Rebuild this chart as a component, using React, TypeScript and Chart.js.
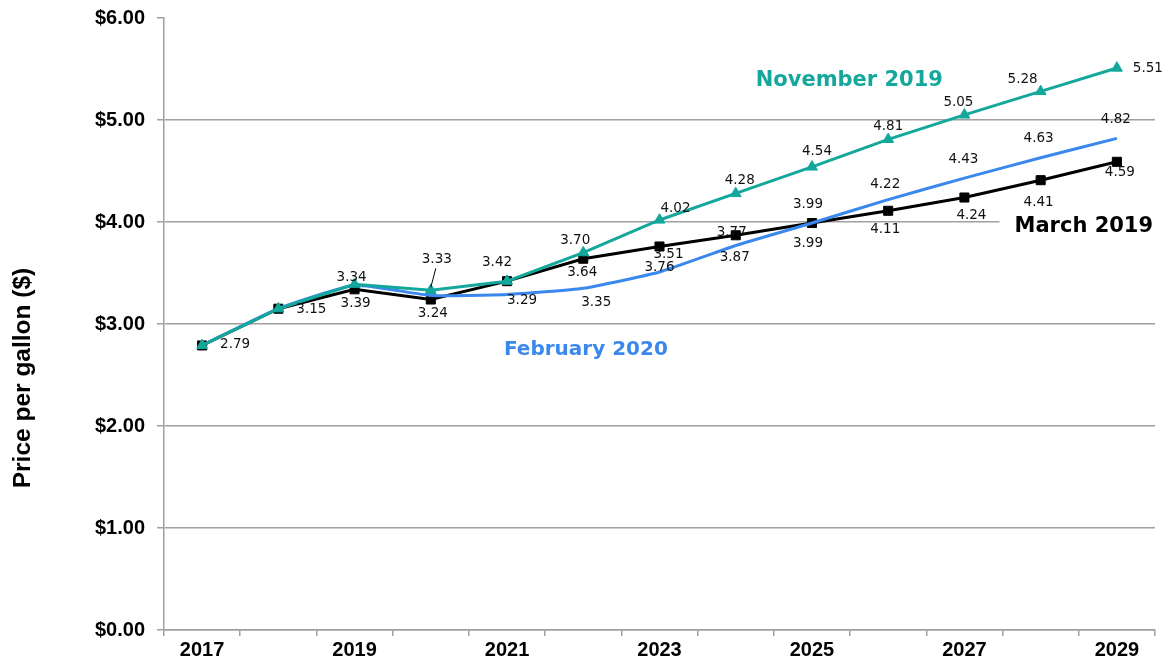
import React, { useEffect, useRef } from 'react';
import { Chart, registerables } from 'chart.js';

Chart.register(...registerables);

// ---- Data ----
const years = ['2017', '2018', '2019', '2020', '2021', '2022', '2023', '2024', '2025', '2026', '2027', '2028', '2029'];
const march2019 = [2.79, 3.15, 3.34, 3.24, 3.42, 3.64, 3.76, 3.87, 3.99, 4.11, 4.24, 4.41, 4.59];
const november2019 = [2.79, 3.15, 3.39, 3.33, 3.42, 3.7, 4.02, 4.28, 4.54, 4.81, 5.05, 5.28, 5.51];
const february2020 = [2.79, 3.15, 3.38, 3.28, 3.29, 3.35, 3.51, 3.77, 3.99, 4.22, 4.43, 4.63, 4.82];
const yTicks = [0, 1, 2, 3, 4, 5, 6];

// ---- Label placement (pixel offsets from each point; null = no label) ----
type Off = [number, number] | null;
const marchLabelOffsets: Off[] = [[33, -1], [33, 1], [-3, -12], [2, 14], [-10, -19], [-1, 14], [0, 21], [-1, 22], [-4, 20], [-3, 19], [7, 18], [-2, 22], [3, 11]];
const novemberLabelOffsets: Off[] = [null, null, [1, 19], [6, -31], null, [-8, -12], [16, -11], [4, -13], [5, -15], [0, -13], [-6, -12], [-18, -12], [31, 1]];
const februaryLabelOffsets: Off[] = [null, null, null, null, [15, 6], [13, 14], [9, -17], [-4, -13], [-4, -19], [-3, -15], [-1, -19], [-2, -19], [-1, -19]];
const novemberLeaderIndex = 3;

const TEAL = '#14a79c';
const BLUE = '#3a88ee';
const BLACK = '#000000';
const GRID = '#a0a0a0';

const AXIS_FONT = '"Liberation Sans", Arial, sans-serif';
const LABEL_FONT = '"DejaVu Sans", Verdana, sans-serif';

const seriesNames = [
  { text: 'November 2019', color: TEAL, xv: 8.49, yv: 5.387, size: 21, box: false },
  { text: 'February 2020', color: BLUE, xv: 5.035, yv: 2.745, size: 20, box: false },
  { text: 'March 2019', color: BLACK, xv: 11.566, yv: 3.951, size: 21, box: true },
];

const labelPlugin = {
  id: 'customLabels',
  beforeDatasetsDraw(chart: any) {
    const { ctx, scales } = chart;
    ctx.save();
    seriesNames.forEach((s) => {
      if (!s.box) return;
      ctx.font = `bold ${s.size}px ${LABEL_FONT}`;
      const w = ctx.measureText(s.text).width;
      const cx = scales.x.getPixelForValue(s.xv);
      const cy = scales.y.getPixelForValue(s.yv);
      ctx.fillStyle = '#ffffff';
      ctx.fillRect(cx - w / 2 - 15, cy - 15, w + 30, 30);
    });
    ctx.restore();
  },
  afterDatasetsDraw(chart: any) {
    const { ctx, scales } = chart;
    ctx.save();
    // data labels
    ctx.font = `13.5px ${LABEL_FONT}`;
    ctx.fillStyle = '#111';
    ctx.textAlign = 'center';
    ctx.textBaseline = 'middle';
    chart.data.datasets.forEach((ds: any, di: number) => {
      const meta = chart.getDatasetMeta(di);
      const offs: Off[] = ds.labelOffsets;
      meta.data.forEach((pt: any, i: number) => {
        const o = offs[i];
        if (!o) return;
        const lx = pt.x + o[0];
        const ly = pt.y + o[1];
        ctx.fillText(ds.data[i].toFixed(2), lx, ly);
        if (ds.leaderIndex === i) {
          ctx.beginPath();
          ctx.strokeStyle = '#000';
          ctx.lineWidth = 1;
          ctx.moveTo(lx - 1, ly + 9);
          ctx.lineTo(pt.x, pt.y - 3);
          ctx.stroke();
        }
      });
    });
    // series names
    seriesNames.forEach((s) => {
      ctx.font = `bold ${s.size}px ${LABEL_FONT}`;
      ctx.fillStyle = s.color;
      ctx.fillText(s.text, scales.x.getPixelForValue(s.xv), scales.y.getPixelForValue(s.yv));
    });
    // y-axis title
    ctx.translate(23, 378);
    ctx.rotate(-Math.PI / 2);
    ctx.font = `bold 24.5px ${AXIS_FONT}`;
    ctx.fillStyle = '#000';
    ctx.fillText('Price per gallon ($)', 0, 0);
    ctx.restore();
  },
};

export default function App() {
  const ref = useRef<HTMLCanvasElement | null>(null);
  useEffect(() => {
    if (!ref.current) return;
    const chart = new Chart(ref.current, {
      type: 'line',
      data: {
        labels: years,
        datasets: [
          {
            label: 'November 2019',
            data: november2019,
            borderColor: TEAL,
            backgroundColor: TEAL,
            borderWidth: 3,
            pointStyle: 'triangle',
            pointRadius: 6.3,
            pointBorderWidth: 1,
            tension: 0,
            labelOffsets: novemberLabelOffsets,
            leaderIndex: novemberLeaderIndex,
          } as any,
          {
            label: 'February 2020',
            data: february2020,
            borderColor: BLUE,
            backgroundColor: BLUE,
            borderWidth: 3,
            pointRadius: 0,
            tension: 0.15,
            labelOffsets: februaryLabelOffsets,
          } as any,
          {
            label: 'March 2019',
            data: march2019,
            borderColor: BLACK,
            backgroundColor: BLACK,
            borderWidth: 3,
            pointStyle: 'rect',
            pointRadius: 6.4,
            pointBorderWidth: 1,
            tension: 0,
            labelOffsets: marchLabelOffsets,
          } as any,
        ],
      },
      options: {
        animation: false,
        responsive: true,
        maintainAspectRatio: false,
        layout: { padding: { top: 18, right: 12, left: 0, bottom: 0 } },
        plugins: { legend: { display: false }, tooltip: { enabled: false }, title: { display: false } },
        scales: {
          x: {
            type: 'category',
            offset: true,
            grid: { display: true, drawOnChartArea: false, offset: true, color: GRID, tickLength: 6, lineWidth: 1.5 },
            border: { display: true, color: GRID, width: 1.5 },
            ticks: {
              autoSkip: false,
              maxRotation: 0,
              padding: 2,
              color: '#000',
              font: { family: AXIS_FONT, size: 20, weight: 'bold' },
              callback: (_v: any, i: number) => (i % 2 === 0 ? years[i] : ''),
            },
            afterFit: (s: any) => {
              s.height = 30;
              s.paddingLeft = 0;
              s.paddingRight = 0;
            },
          },
          y: {
            min: 0,
            max: 6,
            afterBuildTicks: (s: any) => {
              s.ticks = yTicks.map((v) => ({ value: v }));
            },
            ticks: {
              padding: 12,
              color: '#000',
              font: { family: AXIS_FONT, size: 20, weight: 'bold' },
              callback: (v: any) => '$' + Number(v).toFixed(2),
            },
            grid: {
              color: (c: any) => (c.tick && c.tick.value === 6 ? 'rgba(0,0,0,0)' : GRID),
              tickColor: GRID,
              tickLength: 7,
              lineWidth: 1.5,
            },
            border: { display: true, color: GRID, width: 1.5 },
            afterFit: (s: any) => {
              s.width = 164;
              s.paddingTop = 0;
              s.paddingBottom = 0;
            },
          },
        },
      } as any,
      plugins: [labelPlugin],
    });
    return () => chart.destroy();
  }, []);

  return (
    <div style={{ position: 'fixed', left: 0, top: 0, width: 1167, height: 660, background: '#fff' }}>
      <canvas ref={ref} />
    </div>
  );
}
